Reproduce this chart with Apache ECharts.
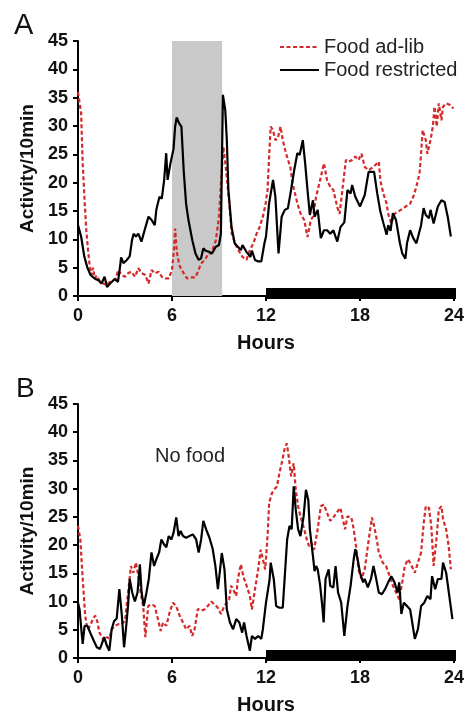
<!DOCTYPE html>
<html><head><meta charset="utf-8">
<script src="https://cdn.jsdelivr.net/npm/echarts@6/dist/echarts.min.js"></script>
<style>html,body{margin:0;padding:0;background:#fff}#c{width:467px;height:716px}</style>
</head><body><div id="c"></div>
<script>
// ---- data ----
const xTicks = [0, 6, 12, 18, 24];
const yTicks = [0, 5, 10, 15, 20, 25, 30, 35, 40, 45];
const seriesNames = ['Food ad-lib', 'Food restricted'];
const shadeA = [6, 9.2];        // shaded interval (hours), panel A
const darkPhase = [12, 24];     // dark bar on the time axis
const noFoodLabel = 'No food';

const adLibA = [[0,36],[0.1,35.8],[0.2,32.2],[0.3,23.4],[0.43,16.4],[0.53,11.6],[0.64,8.1],[0.75,5.2],[0.86,3.7],[0.96,5],[1.07,3.1],[1.2,3.6],[1.4,2.6],[1.6,2.2],[1.8,2],[2.0,2.4],[2.2,2.7],[2.4,3],[2.57,4.6],[2.78,3.7],[3.0,3.4],[3.2,4],[3.4,4.3],[3.64,3.4],[3.85,4.9],[4.07,4],[4.3,3.7],[4.5,2.2],[4.7,4.6],[4.9,4],[5.14,4.3],[5.35,3.4],[5.57,3.1],[5.8,3.1],[6.0,4.6],[6.12,8],[6.2,11.9],[6.3,8],[6.36,6.9],[6.5,5.2],[6.75,4],[6.96,3.1],[7.2,3.3],[7.5,3.3],[7.7,4.6],[7.85,5.7],[8.1,6.4],[8.33,7.5],[8.5,7.5],[8.8,9.8],[9.0,14],[9.15,21],[9.28,26.3],[9.43,22.8],[9.64,16.9],[9.81,11],[10.07,9],[10.3,7.8],[10.5,6.9],[10.76,6.4],[10.97,8.1],[11.2,9.3],[11.4,11],[11.6,12.2],[11.8,14],[11.96,16],[12.1,18.7],[12.2,24.6],[12.3,29.9],[12.44,29.3],[12.6,27.5],[12.75,27.8],[12.93,29.9],[13.07,27.5],[13.22,25.8],[13.4,24],[13.55,22.8],[13.7,19.9],[13.85,18.1],[14.0,16.4],[14.2,14.6],[14.44,13.4],[14.65,10.4],[14.86,13.4],[15.0,14],[15.2,17.5],[15.5,21],[15.7,23.4],[15.9,20.4],[16.1,19.3],[16.3,18.7],[16.55,15.7],[16.7,14.5],[16.9,19.3],[17.1,24],[17.28,23.7],[17.5,24],[17.7,24.6],[17.9,24],[18.1,25.1],[18.3,22.8],[18.55,22.2],[18.86,22.8],[19.2,23.7],[19.3,20.4],[19.5,18],[19.7,16.3],[19.8,14.5],[20.0,12.8],[20.2,14.5],[20.55,15.1],[20.87,15.7],[21.2,16.3],[21.4,17.5],[21.6,19.3],[21.8,21.6],[21.9,25.1],[22.0,29.3],[22.2,27.5],[22.3,25.1],[22.5,27.5],[22.65,29.9],[22.76,33.4],[22.9,29.9],[23.03,34],[23.2,31],[23.3,33.4],[23.5,34],[23.75,33.7],[23.96,33.1]];

const restrictedA = [[0,12.5],[0.1,11.5],[0.2,10.5],[0.4,7],[0.6,5],[0.8,3.7],[1.1,3],[1.3,2.8],[1.5,2.2],[1.7,3.4],[1.85,1.6],[2.05,2.2],[2.35,3],[2.55,2.5],[2.7,5.5],[2.75,6.8],[2.9,5.8],[3.1,6.3],[3.3,7],[3.45,9.9],[3.55,11],[3.7,10.5],[3.85,11],[4.05,9.6],[4.25,11.6],[4.5,14],[4.7,13.4],[4.9,12.5],[5.0,15.2],[5.2,17.5],[5.35,17.2],[5.5,20.5],[5.63,25.2],[5.72,20.5],[5.9,23.4],[6.1,26],[6.2,29.9],[6.3,31.5],[6.45,30.5],[6.6,29.9],[6.75,22],[6.9,16.3],[7.05,13.4],[7.3,9.8],[7.5,7.5],[7.7,6.4],[7.85,6.6],[8.0,8.4],[8.15,8],[8.36,7.8],[8.55,7.5],[8.8,8.7],[9.0,9],[9.12,11],[9.25,35.5],[9.4,32.8],[9.5,27.5],[9.6,18.7],[9.8,12.2],[10.0,9.3],[10.2,8.7],[10.4,8.1],[10.5,9],[10.75,7.8],[11.0,6.9],[11.1,8],[11.3,6.35],[11.5,6.1],[11.7,6.1],[11.9,9.3],[12.0,10.5],[12.2,16.4],[12.45,20.5],[12.6,17.5],[12.8,7.5],[13.0,14],[13.2,15.2],[13.4,15.5],[13.6,18.7],[13.8,22.2],[14.0,25.2],[14.15,24.9],[14.35,27.5],[14.5,23.4],[14.65,18.7],[14.8,14.3],[15.0,16.9],[15.1,14],[15.3,15.2],[15.5,10.2],[15.7,11.6],[15.9,11.6],[16.1,11],[16.3,11.6],[16.55,9.6],[16.76,12.2],[17.0,13],[17.2,18.7],[17.4,18.1],[17.5,19.6],[17.7,17.5],[18.0,15.8],[18.3,17.8],[18.55,21.9],[18.9,21.9],[19.1,18.1],[19.3,14.9],[19.5,12.8],[19.7,10.8],[19.8,12.5],[19.95,11.5],[20.1,14.6],[20.3,13.4],[20.55,9.3],[20.7,7.5],[20.9,6.6],[21.0,9.3],[21.2,11.6],[21.4,10.2],[21.6,9.3],[21.7,9.3],[21.9,12.5],[22.06,15.5],[22.2,14.3],[22.4,13.7],[22.5,15.2],[22.7,12.8],[22.97,15.8],[23.2,16.9],[23.4,16.6],[23.6,14],[23.8,10.5]];

const adLibB = [[0,23.4],[0.15,21],[0.25,16.3],[0.36,11.6],[0.46,7.5],[0.6,5.1],[0.78,5.7],[0.95,6.9],[1.1,7.5],[1.25,6.3],[1.37,4.5],[1.52,3.7],[1.67,3.1],[1.84,3.7],[2.0,3.4],[2.15,5.1],[2.37,5.7],[2.58,6],[2.79,6],[3.0,6.6],[3.2,11.6],[3.38,16.3],[3.53,15.1],[3.7,16.9],[3.85,14.5],[4.0,11.6],[4.16,9.2],[4.3,3.7],[4.48,9.2],[4.69,9.5],[4.9,9.2],[5.1,6.9],[5.28,4.8],[5.43,6.3],[5.64,5.7],[5.85,8.1],[6.06,9.8],[6.27,9.2],[6.49,7.5],[6.7,6.3],[6.9,5.1],[7.12,5.7],[7.29,3.9],[7.44,5.1],[7.65,8.7],[7.86,8.4],[8.07,8.6],[8.28,9.2],[8.5,10],[8.7,9.5],[8.9,9],[9.13,7.8],[9.34,9.2],[9.5,9.8],[9.65,10.4],[9.77,12.8],[9.9,12.2],[10.1,11],[10.2,13.9],[10.4,16.6],[10.55,14.5],[10.76,12.8],[10.97,11],[11.1,8.6],[11.3,12.2],[11.5,15.7],[11.66,19.2],[11.8,17.5],[11.95,15.7],[12.1,21.6],[12.2,27.5],[12.38,29.2],[12.5,29.8],[12.7,30.4],[12.86,32.8],[13.0,34.5],[13.2,37.2],[13.33,38],[13.45,35.7],[13.6,32.2],[13.77,34.5],[13.9,29.8],[14.05,26.9],[14.2,25.1],[14.44,22.8],[14.6,21],[14.75,19.8],[14.9,20.4],[15.07,19.2],[15.3,22.8],[15.5,26.9],[15.7,27.2],[15.9,25.7],[16.1,24.3],[16.3,24.9],[16.5,25.7],[16.75,26.6],[16.9,24.6],[17.05,22.8],[17.2,25.1],[17.45,24.9],[17.6,22.8],[17.8,18.7],[17.9,15.7],[18.1,14],[18.3,15.7],[18.5,19.8],[18.76,24.9],[18.9,23.4],[19.07,21],[19.2,18.7],[19.45,16.9],[19.66,16.3],[19.9,14.5],[20.1,12.8],[20.3,11.6],[20.5,10.4],[20.7,13.4],[20.86,16.3],[21.07,17.5],[21.3,16.3],[21.5,15.1],[21.7,16.9],[21.9,18.7],[22.07,24],[22.2,26.9],[22.4,26.6],[22.55,23.4],[22.7,16.3],[22.9,21.6],[23.03,26.3],[23.2,26.9],[23.3,24.6],[23.5,22.8],[23.66,19.8],[23.8,15.7]];

const restrictedB = [[0,9.8],[0.1,8.6],[0.25,3.9],[0.3,2.5],[0.42,5.7],[0.6,5.7],[0.78,4.5],[1.0,3.1],[1.2,1.9],[1.4,1.6],[1.52,2.5],[1.67,3.7],[1.84,2.2],[2.0,1.3],[2.15,5.1],[2.3,6.5],[2.47,7],[2.64,12.2],[2.8,7.5],[2.94,1.9],[3.06,5.1],[3.2,9.5],[3.3,14],[3.46,11.6],[3.63,10],[3.8,11.6],[3.95,16.6],[4.06,11.6],[4.2,9.2],[4.37,11.6],[4.52,14],[4.69,18.7],[4.86,16.3],[5.0,17.5],[5.18,18.7],[5.32,21],[5.5,20.1],[5.64,19.6],[5.79,21.6],[5.96,21],[6.1,22.2],[6.27,24.9],[6.42,21.6],[6.55,22.5],[6.7,21.6],[6.9,21.3],[7.12,21.6],[7.33,21.9],[7.54,21],[7.7,18.7],[7.86,21],[8.0,24.3],[8.18,22.8],[8.39,21.3],[8.6,19.3],[8.77,16.3],[8.93,12.2],[9.07,15.7],[9.18,18.6],[9.35,15.7],[9.5,8.6],[9.7,6.3],[9.9,5.1],[10.1,6.9],[10.3,6.3],[10.48,4.5],[10.6,6.3],[10.76,3.9],[10.97,1.3],[11.1,3.9],[11.3,3.4],[11.5,3.9],[11.7,3.4],[11.8,5.1],[12.0,9.8],[12.23,13.9],[12.3,16.9],[12.5,13.9],[12.65,9.2],[12.86,8.9],[13.07,8.9],[13.2,14.5],[13.35,21],[13.5,23.4],[13.64,22.8],[13.77,30.4],[13.9,26.3],[14.05,22.8],[14.2,21.6],[14.4,25.1],[14.55,29.8],[14.7,28],[14.8,22.8],[15.0,18],[15.1,15.4],[15.2,16.3],[15.3,15.7],[15.45,13],[15.6,9],[15.68,6.3],[15.8,14],[16.0,15.7],[16.1,12.8],[16.3,12.5],[16.44,16.3],[16.6,11.6],[16.8,9.8],[17.0,3.9],[17.2,9.2],[17.4,12.8],[17.6,17.5],[17.7,19.3],[17.85,17.5],[18.0,15.1],[18.2,13.4],[18.3,14],[18.5,12.5],[18.7,14],[18.86,16.3],[19.0,14.5],[19.2,11.6],[19.4,11.3],[19.6,12.2],[19.8,13.4],[20.0,14.5],[20.2,13.4],[20.4,11.6],[20.5,13.4],[20.64,7.8],[20.8,9.8],[21.0,9.2],[21.2,8.6],[21.3,6.9],[21.5,3.4],[21.7,5.1],[21.9,9.2],[22.1,9.8],[22.3,11],[22.5,10.4],[22.6,14.5],[22.8,12.2],[22.97,14],[23.2,14],[23.3,16.9],[23.5,15.1],[23.7,11],[23.9,6.9]];

// ---- chart ----
const FONT = 'Liberation Sans, Arial, Helvetica, sans-serif';
const RED = '#d42a2a';
const chart = echarts.init(document.getElementById('c'), null, {renderer: 'canvas'});

function xAxisCfg(gi) {
  return {
    type: 'value', gridIndex: gi, min: xTicks[0], max: xTicks[xTicks.length - 1], interval: 6,
    name: 'Hours', nameLocation: 'middle', nameGap: 37,
    nameTextStyle: {fontFamily: FONT, fontWeight: 'bold', fontSize: 20, color: '#111'},
    axisLine: {lineStyle: {color: '#000', width: 2}},
    axisTick: {inside: false, length: 5, lineStyle: {color: '#000', width: 2}},
    axisLabel: {fontFamily: FONT, fontWeight: 'bold', fontSize: 18, color: '#111', margin: 11},
    splitLine: {show: false}
  };
}
function yAxisCfg(gi) {
  return {
    type: 'value', gridIndex: gi, min: yTicks[0], max: yTicks[yTicks.length - 1], interval: 5,
    name: 'Activity/10min', nameLocation: 'middle', nameGap: 41,
    nameTextStyle: {fontFamily: FONT, fontWeight: 'bold', fontSize: 19, color: '#111'},
    axisLine: {show: true, lineStyle: {color: '#000', width: 2}},
    axisTick: {show: true, inside: false, length: 5, lineStyle: {color: '#000', width: 2}},
    axisLabel: {fontFamily: FONT, fontWeight: 'bold', fontSize: 18, color: '#111', margin: 10},
    splitLine: {show: false}
  };
}
function lineSeries(name, data, gi, color, type, width, z) {
  return {
    name, type: 'line', xAxisIndex: gi, yAxisIndex: gi, data, symbol: 'none', z,
    lineStyle: {color, width, type}, itemStyle: {color}, animation: false
  };
}
function barSeries(gi) {
  return {
    type: 'custom', xAxisIndex: gi, yAxisIndex: gi, silent: true, z: 5, clip: false,
    data: [darkPhase],
    renderItem: function (params, api) {
      const p0 = api.coord([api.value(0), 0]);
      const p1 = api.coord([api.value(1), 0]);
      return {type: 'rect', shape: {x: p0[0], y: p0[1] - 8, width: p1[0] - p0[0] + 2, height: 11},
        style: {fill: '#000'}};
    },
    animation: false
  };
}

const adA = lineSeries(seriesNames[0], adLibA, 0, RED, [4, 2.5], 2.2, 3);
adA.markArea = {silent: true, itemStyle: {color: '#c9c9c9'},
  data: [[{xAxis: shadeA[0], yAxis: 45}, {xAxis: shadeA[1], yAxis: 0}]]};

chart.setOption({
  animation: false,
  backgroundColor: '#fff',
  title: [
    {text: 'A', left: 9, top: 6, textStyle: {fontFamily: FONT, fontSize: 29, fontWeight: 'normal', color: '#111'}},
    {text: 'B', left: 11, top: 370, textStyle: {fontFamily: FONT, fontSize: 28, fontWeight: 'normal', color: '#111'}},
    {text: noFoodLabel, left: 150, top: 441, textStyle: {fontFamily: FONT, fontSize: 20, fontWeight: 'normal', color: '#222'}}
  ],
  legend: {
    data: seriesNames, orient: 'vertical', left: 279, top: 37, padding: 0,
    itemWidth: 39, itemHeight: 12, itemGap: 3,
    itemStyle: {opacity: 0},
    textStyle: {fontFamily: FONT, fontSize: 20, color: '#222'}, selectedMode: false
  },
  grid: [
    {left: 78, top: 41, width: 380, height: 255},
    {left: 78, top: 404, width: 380, height: 255}
  ],
  xAxis: [xAxisCfg(0), xAxisCfg(1)],
  yAxis: [yAxisCfg(0), yAxisCfg(1)],
  series: [
    adA,
    lineSeries(seriesNames[1], restrictedA, 0, '#000', 'solid', 2.2, 4),
    barSeries(0),
    lineSeries(seriesNames[0], adLibB, 1, RED, [4, 2.5], 2.2, 3),
    lineSeries(seriesNames[1], restrictedB, 1, '#000', 'solid', 2.2, 4),
    barSeries(1)
  ]
});
</script></body></html>
